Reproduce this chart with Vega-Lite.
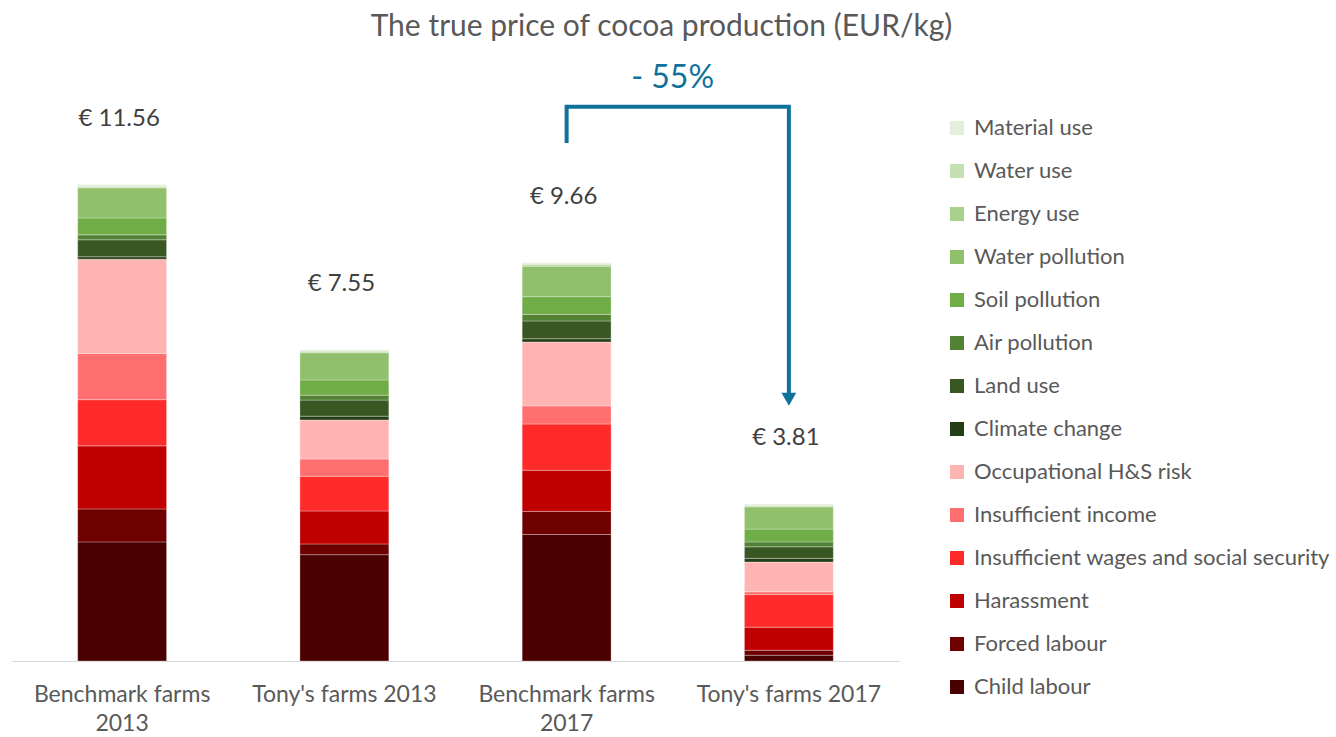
{
  "$schema": "https://vega.github.io/schema/vega-lite/v6.json",
  "width": 889,
  "height": 577,
  "autosize": {"type": "none"},
  "padding": {"left": 11, "top": 84, "right": 436, "bottom": 76},
  "background": "white",
  "config": {
    "view": {"stroke": null},
    "font": "Lato",
    "text": {"font": "Lato"}
  },
  "title": {
    "text": "The true price of cocoa production (EUR/kg)",
    "font": "Lato",
    "fontSize": 30,
    "fontWeight": "normal",
    "color": "#595959",
    "anchor": "middle",
    "dx": 206,
    "offset": 20
  },
  "datasets": {
    "main": [
      {"f": "Benchmark farms 2013", "c": "Child labour", "k": 1, "v": 2.89},
      {"f": "Benchmark farms 2013", "c": "Forced labour", "k": 2, "v": 0.80},
      {"f": "Benchmark farms 2013", "c": "Harassment", "k": 3, "v": 1.53},
      {"f": "Benchmark farms 2013", "c": "Insufficient wages and social security", "k": 4, "v": 1.12},
      {"f": "Benchmark farms 2013", "c": "Insufficient income", "k": 5, "v": 1.12},
      {"f": "Benchmark farms 2013", "c": "Occupational H&S risk", "k": 6, "v": 2.29},
      {"f": "Benchmark farms 2013", "c": "Climate change", "k": 7, "v": 0.06},
      {"f": "Benchmark farms 2013", "c": "Land use", "k": 8, "v": 0.41},
      {"f": "Benchmark farms 2013", "c": "Air pollution", "k": 9, "v": 0.12},
      {"f": "Benchmark farms 2013", "c": "Soil pollution", "k": 10, "v": 0.41},
      {"f": "Benchmark farms 2013", "c": "Water pollution", "k": 11, "v": 0.73},
      {"f": "Benchmark farms 2013", "c": "Energy use", "k": 12, "v": 0.02},
      {"f": "Benchmark farms 2013", "c": "Water use", "k": 13, "v": 0.02},
      {"f": "Benchmark farms 2013", "c": "Material use", "k": 14, "v": 0.04},
      {"f": "Tony's farms 2013", "c": "Child labour", "k": 1, "v": 2.58},
      {"f": "Tony's farms 2013", "c": "Forced labour", "k": 2, "v": 0.26},
      {"f": "Tony's farms 2013", "c": "Harassment", "k": 3, "v": 0.80},
      {"f": "Tony's farms 2013", "c": "Insufficient wages and social security", "k": 4, "v": 0.84},
      {"f": "Tony's farms 2013", "c": "Insufficient income", "k": 5, "v": 0.42},
      {"f": "Tony's farms 2013", "c": "Occupational H&S risk", "k": 6, "v": 0.95},
      {"f": "Tony's farms 2013", "c": "Climate change", "k": 7, "v": 0.09},
      {"f": "Tony's farms 2013", "c": "Land use", "k": 8, "v": 0.39},
      {"f": "Tony's farms 2013", "c": "Air pollution", "k": 9, "v": 0.12},
      {"f": "Tony's farms 2013", "c": "Soil pollution", "k": 10, "v": 0.37},
      {"f": "Tony's farms 2013", "c": "Water pollution", "k": 11, "v": 0.66},
      {"f": "Tony's farms 2013", "c": "Energy use", "k": 12, "v": 0.02},
      {"f": "Tony's farms 2013", "c": "Water use", "k": 13, "v": 0.02},
      {"f": "Tony's farms 2013", "c": "Material use", "k": 14, "v": 0.03},
      {"f": "Benchmark farms 2017", "c": "Child labour", "k": 1, "v": 3.07},
      {"f": "Benchmark farms 2017", "c": "Forced labour", "k": 2, "v": 0.56},
      {"f": "Benchmark farms 2017", "c": "Harassment", "k": 3, "v": 1.00},
      {"f": "Benchmark farms 2017", "c": "Insufficient wages and social security", "k": 4, "v": 1.12},
      {"f": "Benchmark farms 2017", "c": "Insufficient income", "k": 5, "v": 0.44},
      {"f": "Benchmark farms 2017", "c": "Occupational H&S risk", "k": 6, "v": 1.55},
      {"f": "Benchmark farms 2017", "c": "Climate change", "k": 7, "v": 0.08},
      {"f": "Benchmark farms 2017", "c": "Land use", "k": 8, "v": 0.43},
      {"f": "Benchmark farms 2017", "c": "Air pollution", "k": 9, "v": 0.16},
      {"f": "Benchmark farms 2017", "c": "Soil pollution", "k": 10, "v": 0.43},
      {"f": "Benchmark farms 2017", "c": "Water pollution", "k": 11, "v": 0.74},
      {"f": "Benchmark farms 2017", "c": "Energy use", "k": 12, "v": 0.03},
      {"f": "Benchmark farms 2017", "c": "Water use", "k": 13, "v": 0.02},
      {"f": "Benchmark farms 2017", "c": "Material use", "k": 14, "v": 0.03},
      {"f": "Tony's farms 2017", "c": "Child labour", "k": 1, "v": 0.14},
      {"f": "Tony's farms 2017", "c": "Forced labour", "k": 2, "v": 0.12},
      {"f": "Tony's farms 2017", "c": "Harassment", "k": 3, "v": 0.56},
      {"f": "Tony's farms 2017", "c": "Insufficient wages and social security", "k": 4, "v": 0.79},
      {"f": "Tony's farms 2017", "c": "Insufficient income", "k": 5, "v": 0.07},
      {"f": "Tony's farms 2017", "c": "Occupational H&S risk", "k": 6, "v": 0.72},
      {"f": "Tony's farms 2017", "c": "Climate change", "k": 7, "v": 0.09},
      {"f": "Tony's farms 2017", "c": "Land use", "k": 8, "v": 0.28},
      {"f": "Tony's farms 2017", "c": "Air pollution", "k": 9, "v": 0.12},
      {"f": "Tony's farms 2017", "c": "Soil pollution", "k": 10, "v": 0.31},
      {"f": "Tony's farms 2017", "c": "Water pollution", "k": 11, "v": 0.54},
      {"f": "Tony's farms 2017", "c": "Energy use", "k": 12, "v": 0.02},
      {"f": "Tony's farms 2017", "c": "Water use", "k": 13, "v": 0.02},
      {"f": "Tony's farms 2017", "c": "Material use", "k": 14, "v": 0.03}
    ],
    "totals": [
      {"f": "Benchmark farms 2013", "total": 11.56, "label": "€ 11.56"},
      {"f": "Tony's farms 2013", "total": 7.55, "label": "€ 7.55"},
      {"f": "Benchmark farms 2017", "total": 9.66, "label": "€ 9.66"},
      {"f": "Tony's farms 2017", "total": 3.81, "label": "€ 3.81"}
    ],
    "bracket": [
      {"f": "Benchmark farms 2017", "y": 12.57, "o": 1},
      {"f": "Benchmark farms 2017", "y": 13.45, "o": 2},
      {"f": "Tony's farms 2017", "y": 13.45, "o": 3},
      {"f": "Tony's farms 2017", "y": 6.45, "o": 4}
    ],
    "arrowhead": [
      {"f": "Tony's farms 2017", "y": 6.35}
    ],
    "change": [
      {"f": "Benchmark farms 2017", "y": 13.45, "label": "- 55%"}
    ]
  },
  "layer": [
    {
      "data": {"name": "main"},
      "mark": {"type": "bar", "stroke": "white", "strokeWidth": 0.6, "strokeOpacity": 0.5},
      "encoding": {
        "x": {
          "field": "f", "type": "nominal",
          "scale": {"domain": ["Benchmark farms 2013", "Tony's farms 2013", "Benchmark farms 2017", "Tony's farms 2017"], "paddingInner": 0.6, "paddingOuter": 0.3},
          "axis": {
            "title": null, "labelAngle": 0, "ticks": false, "domainColor": "#d9d9d9", "domainWidth": 1.2,
            "labelFont": "Lato", "labelFontSize": 23, "labelColor": "#595959", "labelPadding": 22, "labelLineHeight": 29, "labelLimit": 400,
            "labelExpr": "datum.value == 'Benchmark farms 2013' ? ['Benchmark farms', '2013'] : datum.value == 'Benchmark farms 2017' ? ['Benchmark farms', '2017'] : datum.value"
          }
        },
        "y": {"aggregate": "sum", "field": "v", "type": "quantitative", "stack": "zero", "scale": {"domain": [0, 14], "nice": false}, "axis": null},
        "color": {
          "field": "c", "type": "nominal",
          "scale": {
            "domain": ["Material use", "Water use", "Energy use", "Water pollution", "Soil pollution", "Air pollution", "Land use", "Climate change", "Occupational H&S risk", "Insufficient income", "Insufficient wages and social security", "Harassment", "Forced labour", "Child labour"],
            "range": ["#e2efda", "#c5e0b3", "#a9d18e", "#90c06c", "#70ad47", "#538135", "#385723", "#243f17", "#ffb4b4", "#ff6f6f", "#ff2a2a", "#c00000", "#6e0000", "#4a0000"]
          },
          "legend": {
            "title": null, "orient": "none", "legendX": 935, "legendY": 33,
            "symbolType": "square", "symbolSize": 196, "symbolStrokeWidth": 0,
            "labelFont": "Lato", "labelFontSize": 22, "labelColor": "#595959", "labelOffset": 6,
            "rowPadding": 21, "labelLimit": 500
          }
        },
        "order": {"field": "k", "type": "quantitative", "sort": "ascending"}
      }
    },
    {
      "data": {"name": "totals"},
      "mark": {"type": "text", "font": "Lato", "fontSize": 24, "color": "#404040", "baseline": "middle", "dy": -66, "dx": -3},
      "encoding": {
        "x": {"field": "f", "type": "nominal"},
        "y": {"field": "total", "type": "quantitative"},
        "text": {"field": "label"}
      }
    },
    {
      "data": {"name": "bracket"},
      "mark": {"type": "line", "color": "#10729c", "strokeWidth": 4, "strokeCap": "butt", "strokeJoin": "miter"},
      "encoding": {
        "x": {"field": "f", "type": "nominal"},
        "y": {"field": "y", "type": "quantitative"},
        "order": {"field": "o", "type": "quantitative"}
      }
    },
    {
      "data": {"name": "arrowhead"},
      "mark": {"type": "point", "shape": "triangle-down", "filled": true, "color": "#10729c", "size": 220, "opacity": 1},
      "encoding": {
        "x": {"field": "f", "type": "nominal"},
        "y": {"field": "y", "type": "quantitative"}
      }
    },
    {
      "data": {"name": "change"},
      "mark": {"type": "text", "font": "Lato", "fontSize": 32, "color": "#10729c", "baseline": "middle", "dx": 106, "dy": -29},
      "encoding": {
        "x": {"field": "f", "type": "nominal"},
        "y": {"field": "y", "type": "quantitative"},
        "text": {"field": "label"}
      }
    }
  ]
}
